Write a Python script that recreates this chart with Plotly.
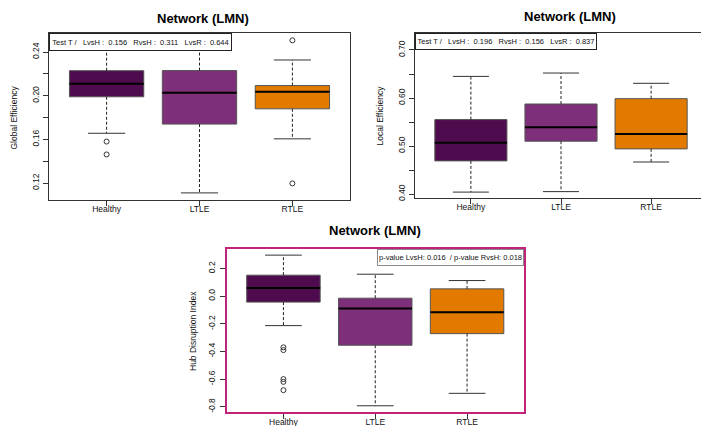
import plotly.graph_objects as go

categories = ["Healthy", "LTLE", "RTLE"]
colors = ["#4e0c4e", "#7d2f79", "#e27a00"]

# Global efficiency
ge_q1 = [0.199, 0.174, 0.188]
ge_med = [0.211, 0.2027, 0.2036]
ge_q3 = [0.2229, 0.223, 0.2093]
ge_lo = [0.1656, 0.111, 0.1605]
ge_hi = [0.250, 0.248, 0.2327]
ge_out_grp = [0, 0, 2, 2]
ge_out_val = [0.158, 0.1462, 0.2507, 0.1197]
ge_ticks = [0.12, 0.14, 0.16, 0.18, 0.20, 0.22, 0.24]
ge_ticktext = ["0.12", "", "0.16", "", "0.20", "", "0.24"]

# Local efficiency
le_q1 = [0.469, 0.510, 0.494]
le_med = [0.507, 0.539, 0.525]
le_q3 = [0.555, 0.5875, 0.5986]
le_lo = [0.404, 0.405, 0.4667]
le_hi = [0.645, 0.652, 0.6306]
le_out_grp = []
le_out_val = []
le_ticks = [0.40, 0.45, 0.50, 0.55, 0.60, 0.65, 0.70]
le_ticktext = ["0.40", "", "0.50", "", "0.60", "", "0.70"]

# Hub disruption index
hdi_q1 = [-0.043, -0.355, -0.271]
hdi_med = [0.060, -0.090, -0.116]
hdi_q3 = [0.152, -0.0145, 0.053]
hdi_lo = [-0.213, -0.793, -0.703]
hdi_hi = [0.297, 0.159, 0.113]
hdi_out_grp = [0, 0, 0, 0, 0]
hdi_out_val = [-0.37, -0.39, -0.60, -0.62, -0.68]
hdi_ticks = [-0.8, -0.6, -0.4, -0.2, 0.0, 0.2]
hdi_ticktext = ["-0.8", "-0.6", "-0.4", "-0.2", "0.0", "0.2"]

stat_ge = "Test T /\u00a0\u00a0 LvsH :\u00a0 0.156\u00a0\u00a0 RvsH :\u00a0 0.311\u00a0\u00a0 LvsR :\u00a0 0.644"
stat_le = "Test T /\u00a0\u00a0 LvsH :\u00a0 0.196\u00a0\u00a0 RvsH :\u00a0 0.156\u00a0\u00a0 LvsR :\u00a0 0.837"
stat_hdi = "p-value LvsH: 0.016\u00a0\u00a0/ p-value RvsH: 0.018"

FONT = "Liberation Sans, Arial, sans-serif"
W, H = 709, 426

fig = go.Figure()


def px_dom(a, b, total):
    return [a / total, b / total]


def add_panel(n, q1, med, q3, lo, hi, og, ov):
    xa = "x" if n == 1 else f"x{n}"
    ya = "y" if n == 1 else f"y{n}"
    pos = [i + 1 for i in range(len(categories))]
    for i, c in enumerate(categories):
        p = pos[i]
        fig.add_trace(go.Scatter(
            x=[p, p, None, p, p], y=[q3[i], hi[i], None, q1[i], lo[i]],
            mode="lines", line=dict(color="#222", width=1, dash="3px,2px"),
            xaxis=xa, yaxis=ya, hoverinfo="skip"))
        fig.add_trace(go.Scatter(
            x=[p - 0.2, p + 0.2, None, p - 0.2, p + 0.2],
            y=[hi[i], hi[i], None, lo[i], lo[i]],
            mode="lines", line=dict(color="#333", width=1),
            xaxis=xa, yaxis=ya, hoverinfo="skip"))
        fig.add_trace(go.Box(
            x=[p], q1=[q1[i]], median=[med[i]], q3=[q3[i]],
            lowerfence=[q1[i]], upperfence=[q3[i]],
            width=0.8, whiskerwidth=0, fillcolor=colors[i],
            line=dict(color="#555", width=1), boxpoints=False,
            xaxis=xa, yaxis=ya, name=c))
        fig.add_trace(go.Scatter(
            x=[p - 0.4, p + 0.4], y=[med[i], med[i]], mode="lines",
            line=dict(color="black", width=2),
            xaxis=xa, yaxis=ya, hoverinfo="skip"))
    if og:
        fig.add_trace(go.Scatter(
            x=[pos[g] for g in og], y=ov, mode="markers",
            marker=dict(symbol="circle-open", size=5, color="#333",
                        line=dict(width=1)),
            xaxis=xa, yaxis=ya, hoverinfo="skip"))


add_panel(1, ge_q1, ge_med, ge_q3, ge_lo, ge_hi, ge_out_grp, ge_out_val)
add_panel(2, le_q1, le_med, le_q3, le_lo, le_hi, le_out_grp, le_out_val)
add_panel(3, hdi_q1, hdi_med, hdi_q3, hdi_lo, hdi_hi, hdi_out_grp, hdi_out_val)

tickfont = dict(family=FONT, size=8.5, color="#111")


def xax(dom, y_anchor, linecolor, lw):
    return dict(domain=dom, anchor=y_anchor, range=[0.38, 3.62],
                tickvals=[1, 2, 3], ticktext=categories, ticks="outside",
                ticklen=5, tickcolor="#333", showline=True, mirror=True,
                linecolor=linecolor, linewidth=lw, showgrid=False,
                zeroline=False, tickfont=tickfont, ticklabelstandoff=-4,
                automargin=False, fixedrange=True)


def yax(dom, x_anchor, rng, tv, tt, linecolor, lw):
    return dict(domain=dom, anchor=x_anchor, range=rng, tickvals=tv,
                ticktext=tt, ticks="outside", ticklen=5, tickcolor="#333",
                showline=True, mirror=True, linecolor=linecolor,
                linewidth=lw, showgrid=False, zeroline=False,
                tickfont=tickfont, tickangle=-90, ticklabelstandoff=1,
                automargin=False, fixedrange=True)


d1x = px_dom(41, 342, W)
d1y = [1 - 192 / H, 1 - 25 / H]
d2x = px_dom(407, 699, W)
d2y = [1 - 190 / H, 1 - 25 / H]
d3x = px_dom(218.5, 516, W)
d3y = [1 - 404 / H, 1 - 240.5 / H]

fig.update_layout(
    width=W, height=H, margin=dict(l=0, r=0, t=0, b=0),
    paper_bgcolor="white", plot_bgcolor="white", showlegend=False,
    boxmode="overlay", template="none",
    xaxis=xax(d1x, "y", "#333", 1),
    yaxis=yax(d1y, "x", [0.1045, 0.2574], ge_ticks, ge_ticktext, "#333", 1),
    xaxis2=xax(d2x, "y2", "#333", 1),
    yaxis2=yax(d2y, "x2", [0.3917, 0.7354], le_ticks, le_ticktext, "#333", 1),
    xaxis3=xax(d3x, "y3", "#c2237a", 2),
    yaxis3=yax(d3y, "x3", [-0.838, 0.345], hdi_ticks, hdi_ticktext, "#c2237a", 2),
)

ann = []
title_font = dict(family=FONT, size=13, color="black")
for txt, xc, yc in [("<b>Network (LMN)</b>", 195, 10),
                    ("<b>Network (LMN)</b>", 562, 9),
                    ("<b>Network (LMN)</b>", 367, 222)]:
    ann.append(dict(text=txt, x=xc / W, y=1 - yc / H, xref="paper",
                    yref="paper", showarrow=False, font=title_font,
                    xanchor="center", yanchor="middle"))

ytfont = dict(family=FONT, size=8.5, color="#111")
for txt, xc, yc in [("Global Efficiency", 5.5, 110),
                    ("Local Efficiency", 372, 107.5),
                    ("Hub Disruption Index", 185, 323)]:
    ann.append(dict(text=txt, x=xc / W, y=1 - yc / H, xref="paper",
                    yref="paper", showarrow=False, font=ytfont,
                    textangle=-90, xanchor="center", yanchor="middle"))

stat_font = dict(family=FONT, size=7.5, color="#111")
for txt, x0, y0, w, h, bc in [(stat_ge, 41, 25, 183, 18, "#222"),
                              (stat_le, 407, 25, 182, 17, "#222"),
                              (stat_hdi, 369, 240.5, 147, 17, "#888")]:
    ann.append(dict(text=txt, x=x0 / W, y=1 - y0 / H, xref="paper",
                    yref="paper", showarrow=False, font=stat_font,
                    xanchor="left", yanchor="top", width=w - 4, height=h - 4,
                    borderpad=1, bordercolor=bc, borderwidth=1,
                    bgcolor="white", align="center", valign="middle"))

fig.update_layout(annotations=ann)
fig.write_html("out.html")
